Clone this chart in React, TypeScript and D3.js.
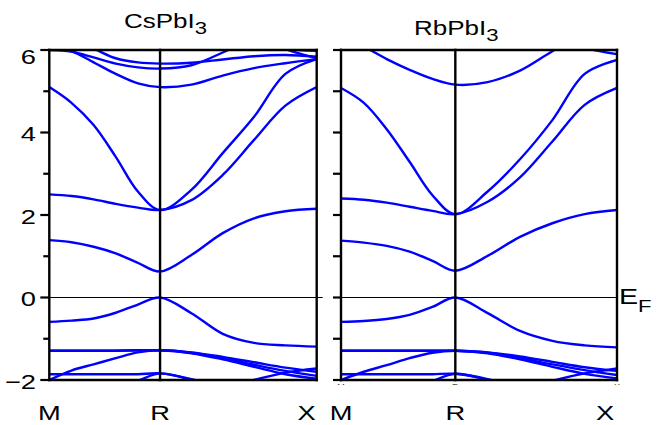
import { useEffect, useRef } from 'react';
import * as d3 from 'd3';

const W = 659, H = 425;
const Y_TOP = 50, Y_BOT = 380;
const PANELS = [
  { x0: 49.3, x1: 316.7, zeroExt: 6, tickMajor: 9, tickMinor: 6, title: 'CsPbI', tx: 124, ty: 28, xLabelShift: -10 },
  { x0: 341, x1: 617, zeroExt: 0, tickMajor: 8, tickMinor: 8, title: 'RbPbI', tx: 414, ty: 35, xLabelShift: -12 },
];

// k-path M -> R -> X (|MR| = 0.5, |RX| = 0.7071)
const kPoints = [0, 0.1, 0.2, 0.3, 0.4, 0.5, 0.6414, 0.7828, 0.9243, 1.0657, 1.2071];
const kLabels = ['M', 'R', 'X'];
const kLabelPos = [0, 0.5, 1.2071];
const yMajor = [6, 4, 2, 0, -2];
const yMinor = [5, 3, 1, -1];

// energies (eV) at kPoints
const csBands = [
  [1.39, 1.34, 1.23, 1.07, 0.84, 0.63, 1.03, 1.56, 1.92, 2.09, 2.15],
  [2.50, 2.46, 2.38, 2.27, 2.18, 2.12, 2.36, 2.97, 3.82, 4.65, 5.10],
  [5.10, 4.72, 4.18, 3.41, 2.57, 2.12, 2.61, 3.50, 4.38, 5.42, 5.78],
  [6.05, 5.97, 5.70, 5.42, 5.19, 5.10, 5.16, 5.38, 5.56, 5.68, 5.78],
  [6.00, 5.96, 5.82, 5.67, 5.58, 5.55, 5.63, 5.94, 6.30, 6.60, 6.70],
  [6.40, 6.22, 6.03, 5.80, 5.70, 5.67, 5.69, 5.77, 5.85, 5.88, 5.84],
  [7.0, 7.0, 7.0, 7.0, 7.0, 7.0, 6.9, 6.7, 6.35, 6.02, 5.80],
  [7.0, 7.0, 7.0, 7.0, 7.0, 7.0, 6.8, 6.5, 6.2, 6.03, 5.98],
  [-0.59, -0.56, -0.51, -0.37, -0.17, 0.0, -0.38, -0.88, -1.10, -1.16, -1.19],
  [-1.29, -1.29, -1.29, -1.29, -1.28, -1.28, -1.33, -1.44, -1.57, -1.70, -1.80],
  [-1.29, -1.29, -1.29, -1.29, -1.28, -1.28, -1.35, -1.50, -1.68, -1.86, -1.97],
  [-2.00, -1.77, -1.62, -1.47, -1.33, -1.28, -1.34, -1.47, -1.63, -1.78, -1.90],
  [-1.86, -1.86, -1.86, -1.86, -1.86, -1.84, -1.98, -2.2, -2.4, -2.5, -2.5],
  [-2.6, -2.5, -2.4, -2.2, -2.02, -1.84, -2.0, -2.2, -2.4, -2.5, -2.5],
  [-2.6, -2.6, -2.6, -2.6, -2.6, -2.6, -2.5, -2.2, -2.0, -1.82, -1.72],
];

const rbBands = [
  [1.38, 1.33, 1.25, 1.11, 0.89, 0.65, 1.01, 1.47, 1.80, 2.02, 2.12],
  [2.40, 2.37, 2.30, 2.20, 2.10, 2.02, 2.32, 2.91, 3.78, 4.67, 5.08],
  [5.08, 4.72, 4.08, 3.29, 2.48, 2.02, 2.57, 3.35, 4.30, 5.42, 5.76],
  [6.3, 6.08, 5.78, 5.52, 5.30, 5.16, 5.22, 5.50, 5.97, 6.4, 6.6],
  [7.0, 7.0, 7.0, 7.0, 7.0, 7.0, 7.0, 6.8, 6.3, 6.05, 5.90],
  [-0.59, -0.57, -0.52, -0.42, -0.23, 0.0, -0.38, -0.81, -1.05, -1.16, -1.21],
  [-1.29, -1.29, -1.29, -1.29, -1.29, -1.29, -1.33, -1.43, -1.56, -1.69, -1.78],
  [-1.29, -1.29, -1.29, -1.29, -1.29, -1.29, -1.35, -1.50, -1.68, -1.85, -1.96],
  [-2.00, -1.80, -1.64, -1.47, -1.34, -1.29, -1.34, -1.47, -1.62, -1.76, -1.88],
  [-1.86, -1.86, -1.86, -1.86, -1.86, -1.85, -1.98, -2.2, -2.4, -2.5, -2.5],
  [-2.6, -2.5, -2.4, -2.25, -2.03, -1.85, -2.0, -2.2, -2.4, -2.5, -2.5],
  [-2.6, -2.6, -2.6, -2.6, -2.6, -2.6, -2.5, -2.25, -2.02, -1.84, -1.72],
];

const FONT = '"Liberation Sans", Arial, sans-serif';
const SX = 1.3; // glyphs in the figure are stretched horizontally

export default function App() {
  const svgRef = useRef<SVGSVGElement>(null);

  useEffect(() => {
    const svg = d3.select(svgRef.current);
    svg.selectAll('*').remove();

    const y = d3.scaleLinear().domain([-2, 6]).range([Y_BOT, Y_TOP]);
    const defs = svg.append('defs');

    [csBands, rbBands].forEach((bands, pi) => {
      const p = PANELS[pi];
      const x = d3.scaleLinear().domain([0, kPoints[kPoints.length - 1]]).range([p.x0, p.x1]);
      const g = svg.append('g');

      defs.append('clipPath').attr('id', `clip${pi}`)
        .append('rect')
        .attr('x', p.x0).attr('y', Y_TOP)
        .attr('width', p.x1 - p.x0).attr('height', Y_BOT - Y_TOP);

      const line = d3.line<number>()
        .x((_, i) => x(kPoints[i]))
        .y((d) => y(d))
        .curve(d3.curveCatmullRom.alpha(0.5));

      g.append('g')
        .attr('clip-path', `url(#clip${pi})`)
        .selectAll('path')
        .data(bands)
        .join('path')
        .attr('d', (d) => line(d))
        .attr('fill', 'none')
        .attr('stroke', '#0000ff')
        .attr('stroke-width', 2.4);

      // Fermi level
      g.append('line')
        .attr('x1', p.x0).attr('x2', p.x1 + p.zeroExt)
        .attr('y1', y(0)).attr('y2', y(0))
        .attr('stroke', '#000').attr('stroke-width', 1);

      // frame + R line
      const frame = [
        [p.x0, Y_TOP, p.x0, Y_BOT],
        [p.x1, Y_TOP, p.x1, Y_BOT],
        [p.x0, Y_TOP, p.x1, Y_TOP],
        [p.x0, Y_BOT, p.x1, Y_BOT],
        [x(0.5), Y_TOP, x(0.5), Y_BOT],
      ];
      g.selectAll('.frame')
        .data(frame)
        .join('line')
        .attr('x1', (d) => d[0]).attr('y1', (d) => d[1])
        .attr('x2', (d) => d[2]).attr('y2', (d) => d[3])
        .attr('stroke', '#000').attr('stroke-width', 2.4)
        .attr('stroke-linecap', 'square');

      // ticks
      g.selectAll('.major')
        .data(yMajor)
        .join('line')
        .attr('x1', p.x0 - p.tickMajor).attr('x2', p.x0)
        .attr('y1', (d) => y(d)).attr('y2', (d) => y(d))
        .attr('stroke', '#000').attr('stroke-width', 2.2);
      g.selectAll('.minor')
        .data(yMinor)
        .join('line')
        .attr('x1', p.x0 - p.tickMinor).attr('x2', p.x0)
        .attr('y1', (d) => y(d)).attr('y2', (d) => y(d))
        .attr('stroke', '#000').attr('stroke-width', 2.2);

      // k labels
      g.selectAll('.klab')
        .data(kLabels)
        .join('text')
        .attr('transform', (_, i) => {
          const xx = x(kLabelPos[i]) + (i === 2 ? p.xLabelShift : 0);
          return `translate(${xx},420) scale(${SX},1)`;
        })
        .attr('text-anchor', 'middle')
        .attr('font-family', FONT)
        .attr('font-size', 21)
        .attr('fill', '#000')
        .text((d) => d);

      // title
      const t = g.append('text')
        .attr('transform', `translate(${p.tx},${p.ty}) scale(${SX},1)`)
        .attr('font-family', FONT)
        .attr('font-size', 20)
        .attr('fill', '#000');
      t.append('tspan').text(p.title);
      t.append('tspan').attr('font-size', 17).attr('dy', 6).text('3');

      if (pi === 1) {
        // clipped remnants of small labels below the right panel
        defs.append('clipPath').attr('id', 'clipTiny')
          .append('rect').attr('x', p.x0 - 10).attr('y', Y_BOT + 1)
          .attr('width', p.x1 - p.x0 + 20).attr('height', 4);
        g.append('g').attr('clip-path', 'url(#clipTiny)')
          .selectAll('text')
          .data(kLabels)
          .join('text')
          .attr('x', (_, i) => x(kLabelPos[i]))
          .attr('y', Y_BOT + 10)
          .attr('text-anchor', 'middle')
          .attr('font-family', FONT)
          .attr('font-size', 9)
          .attr('fill', '#444')
          .text((d) => d);
      }
    });

    // y tick labels (left panel only)
    svg.append('g')
      .selectAll('text')
      .data(yMajor)
      .join('text')
      .attr('transform', (d) => `translate(36,${Math.max(y(d) + 1.5, 57)}) scale(${SX},1)`)
      .attr('text-anchor', 'end')
      .attr('dominant-baseline', 'central')
      .attr('font-family', FONT)
      .attr('font-size', 21)
      .attr('fill', '#000')
      .text((d) => (d < 0 ? `\u2212${-d}` : `${d}`));

    // E_F label
    const ef = svg.append('text')
      .attr('transform', `translate(619,${y(0) + 6}) scale(${SX},1)`)
      .attr('font-family', FONT)
      .attr('font-size', 22)
      .attr('fill', '#000');
    ef.append('tspan').text('E');
    ef.append('tspan').attr('font-size', 17).attr('dy', 8).text('F');
  }, []);

  return (
    <svg
      ref={svgRef}
      width={W}
      height={H}
      viewBox={`0 0 ${W} ${H}`}
      style={{ position: 'absolute', left: 0, top: 0, background: '#fff' }}
    />
  );
}
